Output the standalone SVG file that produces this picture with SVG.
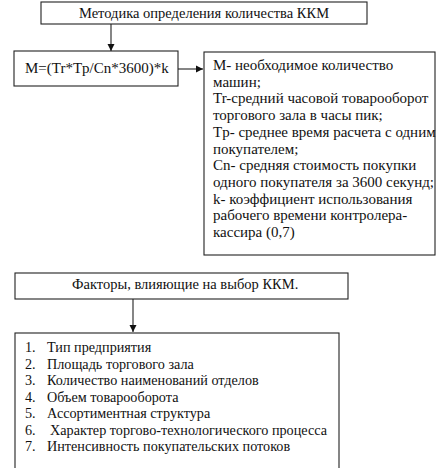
<svg xmlns="http://www.w3.org/2000/svg" width="443" height="468" viewBox="0 0 443 468">
<defs>
<marker id="ah" markerWidth="8" markerHeight="8" refX="7" refY="4" orient="auto" markerUnits="userSpaceOnUse">
<path d="M0,0.5 L7,4 L0,7.5 Z" fill="#111"/>
</marker>
<style>
.box{fill:#fff;stroke:#222;stroke-width:1.1}
.t{font-size:14.5px;fill:#111}
.l{font-size:15px;fill:#111}
.s{font-size:14.2px;fill:#111}
.c{stroke:#222;stroke-width:1.1;fill:none}
</style>
</defs>
<rect width="443" height="468" fill="#fff"/>
<g id="connectors">
<line class="c" x1="111" y1="24" x2="111" y2="51" marker-end="url(#ah)"/>
<line class="c" x1="178" y1="69" x2="203" y2="69" marker-end="url(#ah)"/>
<line class="c" x1="133" y1="299" x2="133" y2="332" marker-end="url(#ah)"/>
</g>
<g font-family="Liberation Serif, Times New Roman, DejaVu Serif, serif">
<g id="method">
<rect class="box" x="41" y="2" width="326" height="22"/>
<text class="t" x="204" y="18" text-anchor="middle">Методика определения количества ККМ</text>
</g>
<g id="formula">
<rect class="box" x="14" y="51" width="164" height="35"/>
<text class="l" x="25" y="73">M=(Tr*Tp/Cn*3600)*k</text>
</g>
<g id="legend">
<rect class="box" x="204" y="52" width="231" height="203"/>
<text class="l" x="213" y="70">M- необходимое количество</text>
<text class="l" x="213" y="86.7">машин;</text>
<text class="l" x="213" y="103.4">Tr-средний часовой товарооборот</text>
<text class="l" x="213" y="120.1">торгового зала в часы пик;</text>
<text class="l" x="213" y="136.8">Tp- среднее время расчета с одним</text>
<text class="l" x="213" y="153.5">покупателем;</text>
<text class="l" x="213" y="170.2">Cn- средняя стоимость покупки</text>
<text class="l" x="213" y="186.9">одного покупателя за 3600 секунд;</text>
<text class="l" x="213" y="203.6">k- коэффициент использования</text>
<text class="l" x="213" y="220.3">рабочего времени контролера-</text>
<text class="l" x="213" y="237">кассира (0,7)</text>
</g>
<g id="factors">
<rect class="box" x="15" y="273" width="333" height="26"/>
<text class="t" x="72" y="289">Факторы, влияющие на выбор ККМ.</text>
</g>
<g id="list">
<rect class="box" x="15" y="333" width="324" height="140"/>
<text class="s" x="25" y="352">1.</text><text class="s" x="47" y="352">Тип предприятия</text>
<text class="s" x="25" y="368.5">2.</text><text class="s" x="47" y="368.5">Площадь торгового зала</text>
<text class="s" x="25" y="385">3.</text><text class="s" x="47" y="385">Количество наименований отделов</text>
<text class="s" x="25" y="401.5">4.</text><text class="s" x="47" y="401.5">Объем товарооборота</text>
<text class="s" x="25" y="418">5.</text><text class="s" x="47" y="418">Ассортиментная структура</text>
<text class="s" x="25" y="434.5">6.</text><text class="s" x="50" y="434.5">Характер торгово-технологического процесса</text>
<text class="s" x="25" y="451">7.</text><text class="s" x="47" y="451">Интенсивность покупательских потоков</text>
</g>
</g>
</svg>
